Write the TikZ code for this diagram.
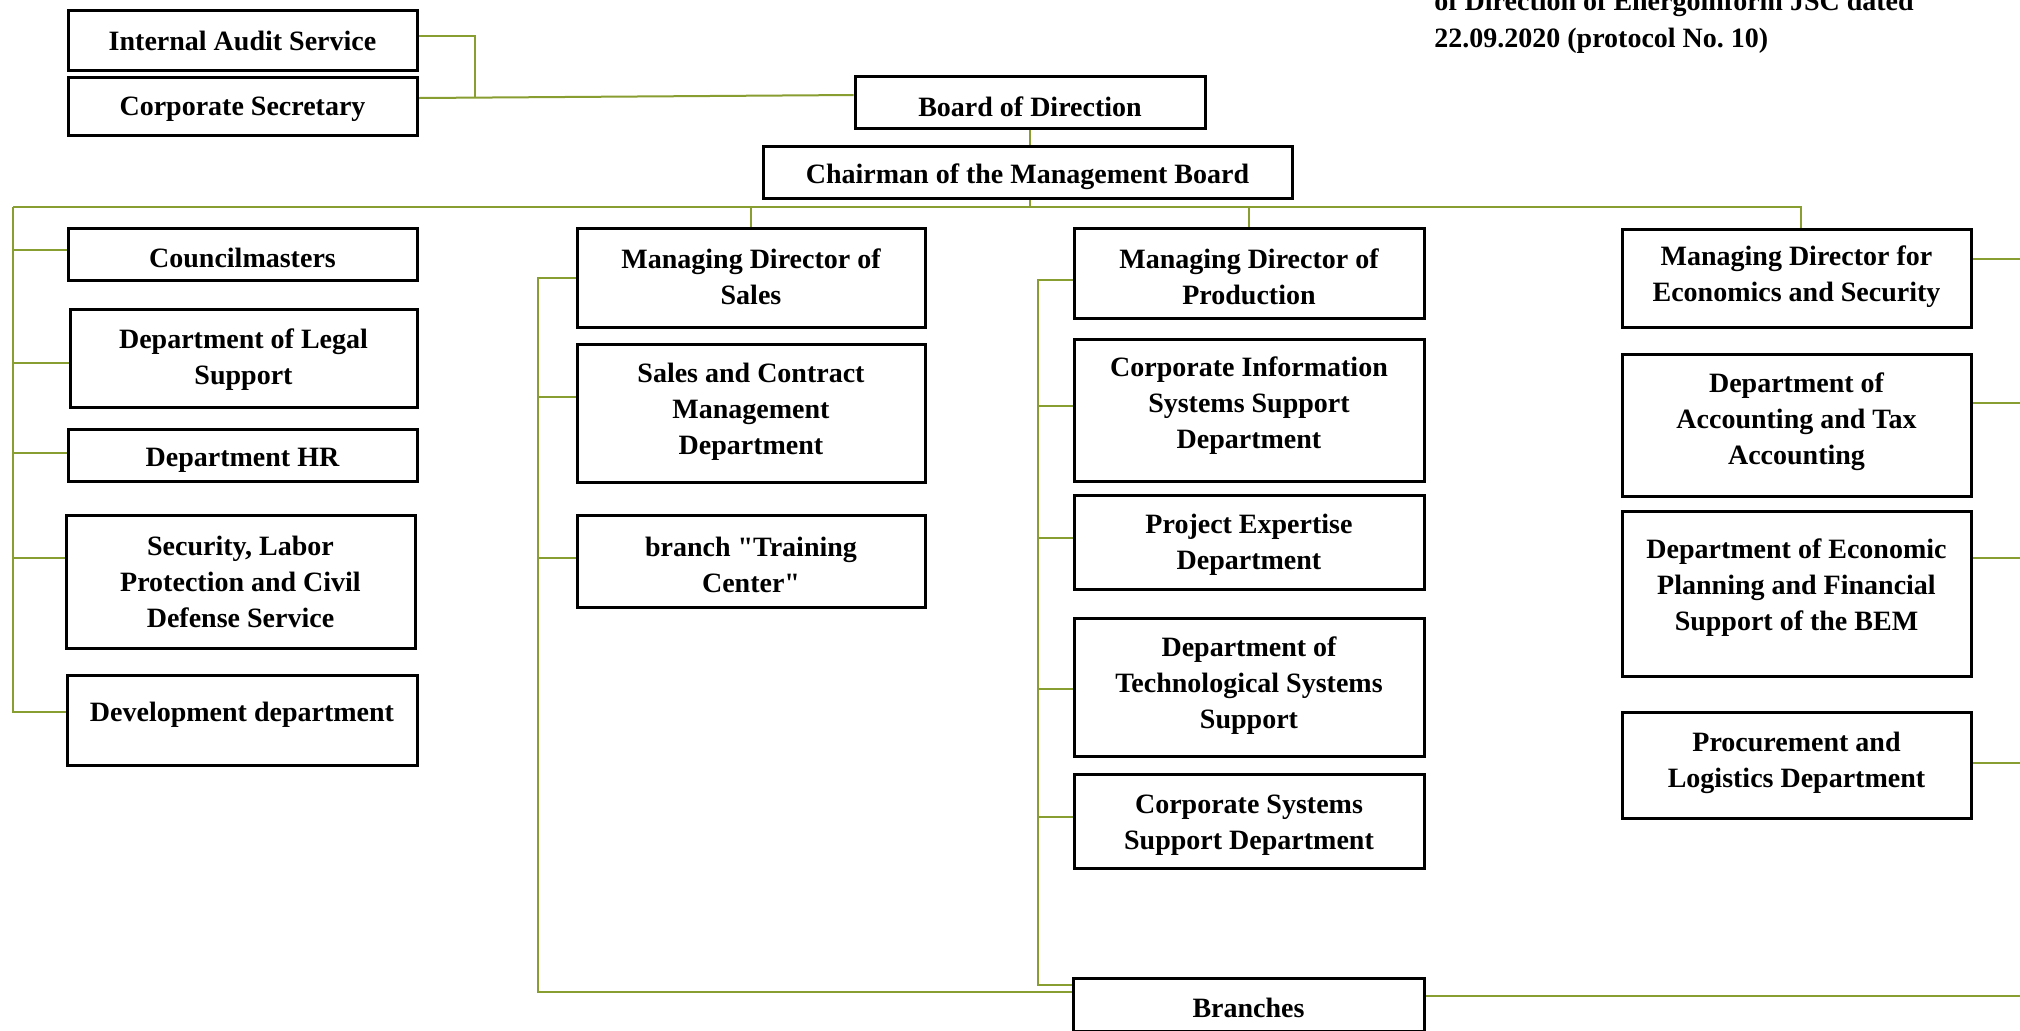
\documentclass[tikz,border=0pt]{standalone}
\usepackage{fontspec}
\setmainfont{Liberation Serif}[Ligatures=TeXOff]
\usetikzlibrary{calc}
\frenchspacing
\definecolor{lineol}{RGB}{137,158,48}
\pgfdeclarelayer{back}\pgfdeclarelayer{wires}\pgfsetlayers{back,wires,main}
\tikzset{
 box/.style={draw=black, line width=1.5pt, fill=white, inner sep=0pt},
 lbl/.style={align=center, font=\fontsize{14}{18}\selectfont\bfseries, inner sep=0pt},
 conn/.style={draw=lineol, line width=1pt},
}
\newcommand\orgbox[7]{%
 \pgfmathsetmacro\bw{(#4-#2)*0.5}%
 \pgfmathsetmacro\bh{(#5-#3)*0.5}%
 \node[box, minimum width=\bw pt, minimum height=\bh pt] (#1) at ({(#2+#4)/2},{(#3+#5)/2}) {};
 \node[lbl] (#1-t) at ({(#2+#4)/2},{#6+3}) {#7};
}
\begin{document}
\begin{tikzpicture}[x=0.5pt,y=-0.5pt]
\begin{pgfonlayer}{back}
\fill[white] (0,0) rectangle (2020,1030);
\end{pgfonlayer}
\useasboundingbox (0,0) rectangle (2020,1030);

% top
\orgbox{ias}{68}{10}{417}{70}{38}{Internal Audit Service}
\orgbox{cs}{68}{77}{417}{135}{106}{Corporate Secretary}
\orgbox{bod}{855}{76}{1205}{128}{104}{Board of Direction}
\orgbox{chair}{763}{146}{1292}{198}{174}{Chairman of the Management Board}

% left column
\orgbox{coun}{68}{228}{417}{280}{255}{Councilmasters}
\orgbox{legal}{70}{309}{417}{407}{357}{Department of Legal\\Support}
\orgbox{hr}{68}{429}{417}{481}{457}{Department HR}
\orgbox{sec}{66}{515}{415}{648}{579}{Security, Labor\\Protection and Civil\\Defense Service}
\orgbox{dev}{67}{675}{417}{765}{712}{Development department}

% sales column
\orgbox{mds}{577}{228}{925}{327}{274}{Managing Director of\\Sales}
\orgbox{scm}{577}{344}{925}{482}{409}{Sales and Contract\\Management\\Department}
\orgbox{btc}{577}{515}{925}{607}{562}{branch "Training\\Center"}

% production column
\orgbox{mdp}{1074}{228}{1424}{318}{274}{Managing Director of\\Production}
\orgbox{cis}{1074}{339}{1424}{481}{403}{Corporate Information\\Systems Support\\Department}
\orgbox{ped}{1074}{495}{1424}{589}{542}{Project Expertise\\Department}
\orgbox{tss}{1074}{618}{1424}{756}{683}{Department of\\Technological Systems\\Support}
\orgbox{csd}{1074}{774}{1424}{868}{822}{Corporate Systems\\Support Department}
\orgbox{br}{1073}{978}{1424}{1031}{1005}{Branches}

% economics column
\orgbox{mde}{1622}{229}{1971}{327}{274}{Managing Director for\\Economics and Security}
\orgbox{acc}{1622}{354}{1971}{496}{419}{Department of\\Accounting and Tax\\Accounting}
\orgbox{eco}{1622}{511}{1971}{676}{585}{Department of Economic\\Planning and Financial\\Support of the BEM}
\orgbox{proc}{1622}{712}{1971}{818}{760}{Procurement and\\Logistics Department}

% note
\node[lbl, anchor=base west] (note1) at (1434,10) {of Direction of Energoinform JSC dated};
\node[lbl, anchor=base west] (note2) at (1434,47) {22.09.2020 (protocol No. 10)};

\begin{pgfonlayer}{wires}
\coordinate (iasJ) at (475,97);
\draw[conn] (ias.east |- 0,36) -| (iasJ);
\draw[conn] (cs.east |- 0,98) -- (bod.west |- 0,95);
\coordinate (busL) at (13,207);
\coordinate (busR) at (1801,207);
\draw[conn] (bod.south) -- (bod.south |- busL);
\draw[conn] (busL) -- (busR) -- (busR |- mde.north);
\draw[conn] (busL) -- (busL |- 0,712) -- (dev.west |- 0,712);
\foreach \n/\yy in {coun/250, legal/363, hr/453, sec/558}
  \draw[conn] (busL |- 0,\yy) -- (\n.west |- 0,\yy);
\draw[conn] (mds.north |- busL) -- (mds.north);
\draw[conn] (mdp.north |- busL) -- (mdp.north);
% sales
\coordinate (sT) at (538,278);
\coordinate (sB) at (538,992);
\draw[conn] (mds.west |- sT) -- (sT) -- (sB) -- (br.west |- sB);
\foreach \n/\yy in {scm/397, btc/558}
  \draw[conn] (sT |- 0,\yy) -- (\n.west |- 0,\yy);
% production
\coordinate (pT) at (1038,280);
\coordinate (pB) at (1038,985);
\draw[conn] (mdp.west |- pT) -- (pT) -- (pB) -- (br.west |- pB);
\foreach \n/\yy in {cis/406, ped/538, tss/689, csd/817}
  \draw[conn] (pT |- 0,\yy) -- (\n.west |- 0,\yy);
% right edge
\foreach \n/\yy in {br/996, mde/259, acc/403, eco/558, proc/763}
  \draw[conn] (\n.east |- 0,\yy) -- (2030,\yy);
\end{pgfonlayer}
\end{tikzpicture}
\end{document}
